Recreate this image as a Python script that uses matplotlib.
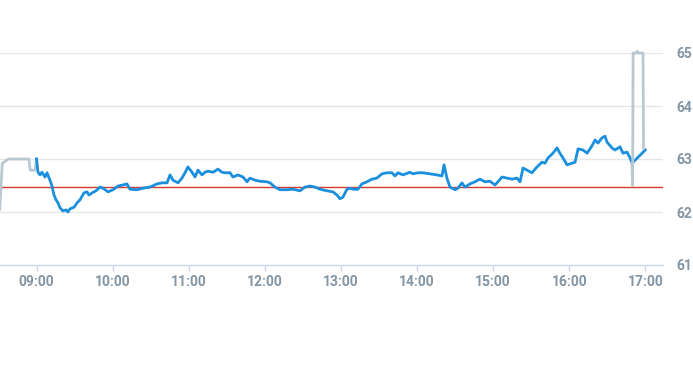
import matplotlib
matplotlib.use("Agg")
import matplotlib.pyplot as plt
from matplotlib.ticker import FixedLocator

# ---- data (minutes since midnight, price) ----
pre_minutes = [511, 513, 518, 534, 535, 539, 540]
pre_values = [62.05, 62.92, 63.0, 63.0, 62.79, 62.79, 63.0]

session_minutes = [
    540, 541.2, 542.8, 544.3, 546.7, 548.3, 550.6, 552.2, 553.8, 555.4, 557.0, 558.5,
    560.9, 563.3, 564.8, 566.4, 569.6, 571.9, 574.3, 577.4, 579.8, 581.4, 583.8, 586.9,
    590.1, 592.4, 596.4, 600.3, 604.3, 608.2, 611.3, 613.7, 619.2, 624.0, 629.5, 635.0,
    638.9, 642.9, 645.3, 647.6, 651.6, 654.7, 657.1, 659.4, 662.6, 665.0, 667.3, 670.5,
    672.8, 675.2, 679.2, 683.1, 686.2, 688.6, 692.6, 694.9, 698.9, 702.8, 706.0, 708.3,
    712.3, 716.2, 721.7, 724.1, 728.0, 732.0, 737.5, 742.2, 747.7, 751.7, 755.6, 759.6,
    763.5, 769.0, 773.8, 776.9, 779.3, 781.6, 784.8, 787.2, 789.5, 793.5, 796.6, 800.6,
    804.5, 808.4, 812.4, 816.3, 820.3, 822.6, 825.0, 828.9, 834.4, 836.8, 840.7, 844.7,
    850.2, 855.7, 859.7, 861.3, 863.6, 866.0, 870.0, 872.3, 875.5, 877.8, 881.8, 885.7,
    889.6, 893.6, 897.5, 901.5, 903.8, 907.0, 910.9, 914.9, 918.8, 921.2, 923.6, 926.7,
    930.6, 934.6, 938.5, 940.9, 943.3, 947.2, 950.4, 952.7, 955.1, 958.3, 962.2, 964.6,
    967.0, 970.9, 974.1, 978.0, 980.4, 982.7, 985.9, 988.2, 989.8, 993.7, 996.1, 1000.1,
    1002.4, 1005.6, 1008.0, 1009.5, 1020.0,
]
session_values = [
    63.00, 62.75, 62.70, 62.75, 62.66, 62.74, 62.60, 62.49, 62.32, 62.23, 62.17, 62.08,
    62.02, 62.04, 62.00, 62.06, 62.09, 62.17, 62.23, 62.36, 62.38, 62.32, 62.36, 62.40,
    62.47, 62.45, 62.38, 62.42, 62.49, 62.51, 62.53, 62.43, 62.42, 62.45, 62.47, 62.53,
    62.55, 62.55, 62.70, 62.60, 62.55, 62.64, 62.74, 62.85, 62.75, 62.66, 62.79, 62.70,
    62.75, 62.77, 62.75, 62.81, 62.75, 62.74, 62.74, 62.66, 62.70, 62.66, 62.57, 62.64,
    62.60, 62.58, 62.57, 62.55, 62.47, 62.42, 62.42, 62.43, 62.40, 62.47, 62.49, 62.47,
    62.43, 62.40, 62.38, 62.32, 62.25, 62.28, 62.43, 62.45, 62.43, 62.43, 62.53, 62.57,
    62.62, 62.64, 62.72, 62.74, 62.74, 62.68, 62.74, 62.70, 62.75, 62.72, 62.74, 62.74,
    62.72, 62.70, 62.68, 62.89, 62.64, 62.47, 62.42, 62.45, 62.55, 62.47, 62.53, 62.57,
    62.62, 62.57, 62.58, 62.51, 62.57, 62.66, 62.64, 62.62, 62.64, 62.57, 62.83, 62.79,
    62.74, 62.85, 62.94, 62.92, 63.02, 63.11, 63.21, 63.11, 63.02, 62.89, 62.92, 62.94,
    63.19, 63.17, 63.11, 63.25, 63.36, 63.30, 63.40, 63.43, 63.32, 63.21, 63.17, 63.23,
    63.11, 63.13, 63.02, 62.92, 63.17,
]

post_minutes = [1009.5, 1010.0, 1010.4, 1013.0, 1013.6, 1014.2, 1018.2, 1018.6]
post_values = [62.92, 62.50, 65.00, 65.00, 65.03, 65.00, 65.00, 63.20]

reference_price = 62.47

x_ticks = [540, 600, 660, 720, 780, 840, 900, 960, 1020]
x_labels = ["09:00", "10:00", "11:00", "12:00", "13:00", "14:00", "15:00", "16:00", "17:00"]
y_ticks = [61, 62, 63, 64, 65]
y_labels = ["61", "62", "63", "64", "65"]

# ---- figure ----
W, H = 693, 365
fig = plt.figure(figsize=(W / 100, H / 100), dpi=100)
ax_left, ax_right, ax_top, ax_bottom = 0, 663, 53, 265
ax = fig.add_axes([ax_left / W, 1 - ax_bottom / H, (ax_right - ax_left) / W, (ax_bottom - ax_top) / H])

# x range: pixel 0 -> 36.5 px before 09:00, 76.1 px per hour
px_per_min = 76.1 / 60.0
x0 = 540 - 36.5 / px_per_min
x1 = x0 + (ax_right - ax_left) / px_per_min
ax.set_xlim(x0, x1)
ax.set_ylim(61, 65)

grid_color = "#e6e6e6"
for yv in y_ticks[1:]:
    ax.axhline(yv, color=grid_color, lw=1, zorder=0)

ax.axhline(reference_price, color="#d23a2f", lw=1, zorder=2)

ax.plot(pre_minutes, pre_values, color="#b9c8d1", lw=2, zorder=3, solid_joinstyle="round")
ax.plot(session_minutes, session_values, color="#1a8fde", lw=2, zorder=4, solid_joinstyle="round")
ax.plot(post_minutes, post_values, color="#b9c8d1", lw=2, zorder=5, clip_on=False, solid_joinstyle="round")

for s in ["top", "right", "left"]:
    ax.spines[s].set_visible(False)
ax.spines["bottom"].set_color("#ccd6eb")
ax.spines["bottom"].set_linewidth(1)

label_font = ["Liberation Sans Narrow", "Roboto", "DejaVu Sans"]
ax.xaxis.set_major_locator(FixedLocator(x_ticks))
ax.set_xticklabels(x_labels, family=label_font, fontsize=10, color="#8495a3", fontweight="bold")
ax.tick_params(axis="x", length=4, width=1, color="#ccd6eb", pad=3)

ax.yaxis.tick_right()
ax.yaxis.set_major_locator(FixedLocator(y_ticks))
ax.set_yticklabels(y_labels, family=label_font, fontsize=10, color="#8495a3", fontweight="bold")
ax.tick_params(axis="y", length=0, pad=9.5)

fig.savefig("out.png", dpi=100)
